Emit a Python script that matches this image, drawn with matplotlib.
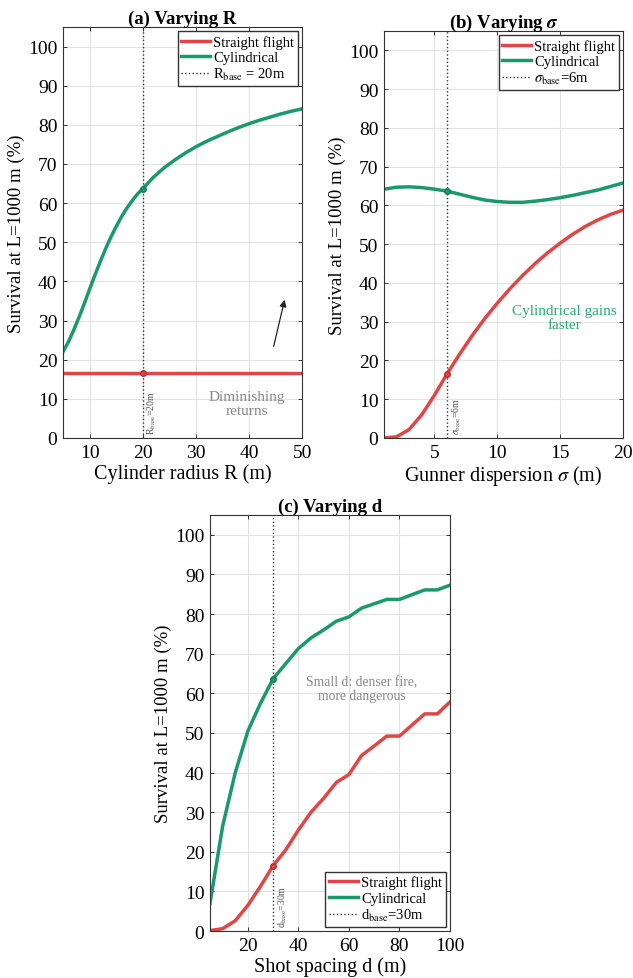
import numpy as np
import matplotlib
matplotlib.use("Agg")
import matplotlib.pyplot as plt

plt.rcParams['font.family'] = ['Liberation Serif', 'DejaVu Serif']
plt.rcParams['mathtext.fontset'] = 'stix'

RED = '#E04646'
GREEN = '#1A9A6C'

# (a) Varying R
R_vals = [5, 6, 7, 8, 9, 10, 11, 12, 13, 14, 15, 16, 17, 18, 19, 20, 22, 24, 26, 28, 30,
          32, 34, 36, 38, 40, 42, 44, 46, 48, 50]
R_cyl = [22.0, 24.5, 27.5, 30.8, 34.3, 38.0, 41.6, 45.0, 48.3, 51.3, 54.0, 56.5, 58.7,
         60.6, 62.3, 63.7, 66.6, 69.0, 71.0, 72.8, 74.4, 75.8, 77.0, 78.2, 79.3, 80.3,
         81.2, 82.0, 82.8, 83.5, 84.1]
R_str = [16.5] * len(R_vals)
R_base = 20
R_base_cyl = 63.7
R_base_str = 16.5

# (b) Varying sigma
s_vals = [1, 2, 3, 4, 5, 6, 7, 8, 9, 10, 11, 12, 13, 14, 15, 16, 17, 18, 19, 20]
s_str = [0.0, 0.3, 2.2, 6.0, 11.0, 16.5, 21.6, 26.4, 30.8, 34.8, 38.5, 41.9, 45.0,
         47.8, 50.3, 52.6, 54.6, 56.3, 57.7, 58.8]
s_cyl = [64.2, 64.7, 64.8, 64.6, 64.2, 63.7, 62.9, 62.1, 61.4, 61.0, 60.8, 60.8, 61.1,
         61.5, 62.0, 62.6, 63.3, 64.0, 64.9, 65.8]
s_base = 6

# (c) Varying d
d_vals = [5, 10, 15, 20, 25, 30, 35, 40, 45, 50, 55, 60, 65, 70, 75, 80, 85, 90, 95, 100]
d_str = [0.1, 0.6, 2.6, 6.5, 11.3, 16.5, 20.5, 25.5, 30.0, 33.5, 37.5, 39.5, 44.3,
         46.7, 49.2, 49.2, 52.0, 54.8, 54.8, 57.8]
d_cyl = [7.0, 26.5, 40.0, 50.5, 57.5, 63.7, 67.5, 71.3, 74.0, 76.0, 78.2, 79.3, 81.5,
         82.6, 83.7, 83.7, 84.9, 86.1, 86.1, 87.3]
d_base = 30

yticks = list(range(0, 101, 10))

fig = plt.figure(figsize=(6.33, 9.79), dpi=100)


def style(ax, xlim, xticks):
    ax.set_xlim(*xlim)
    ax.set_ylim(0, 105)
    ax.set_yticks(yticks)
    ax.set_xticks(xticks)
    ax.grid(True, color='#e3e3e3', linewidth=0.8)
    ax.set_axisbelow(True)
    ax.tick_params(direction='in', top=True, right=True, labelsize=14, length=3,
                   width=0.7, color='#333333', pad=4)
    for sp in ax.spines.values():
        sp.set_linewidth(0.8)
        sp.set_color('#333333')
    ax.set_ylabel('Survival at L=1000 m (%)', fontsize=13.5, labelpad=2)


def legend(ax, loc):
    ax.legend(loc=loc, fontsize=10.5, frameon=True, fancybox=False, edgecolor='#333333',
              handlelength=2.0, handletextpad=0.2, borderpad=0.25, labelspacing=0.15,
              borderaxespad=0.3, framealpha=1)


# panel a
axa = fig.add_axes([0.0995, 0.5516, 0.378, 0.4198])
axa.plot(R_vals, R_str, color=RED, lw=2.5, label='Straight flight')
axa.plot(R_vals, R_cyl, color=GREEN, lw=2.5, label='Cylindrical')
axa.axvline(R_base, color='#333333', lw=1.0, ls=':', label=r'R$_{\mathrm{base}}$ = 20m')
axa.plot([R_base], [R_base_cyl], 'o', color=GREEN, ms=4, mec='#147a55')
axa.plot([R_base], [R_base_str], 'o', color=RED, ms=4, mec='#b03030')
axa.text(R_base + 0.6, 1, r'R$_{\mathrm{base}}$=20m', rotation=90, fontsize=7,
         color='#555555', ha='left', va='bottom')
axa.text(39.6, 8.7, 'Diminishing\nreturns', fontsize=11, color='#888888', ha='center',
         va='center', linespacing=1.1)
axa.annotate('', xy=(46.8, 36), xytext=(44.5, 22.7),
             arrowprops=dict(arrowstyle='-|>', color='#222222', lw=0.9, mutation_scale=10))
style(axa, (5, 50), [10, 20, 30, 40, 50])
axa.set_xlabel('Cylinder radius R (m)', fontsize=14.5, labelpad=2)
axa.set_title('(a) Varying R', fontsize=13.5, fontweight='bold', pad=3)
legend(axa, 'upper right')

# panel b
axb = fig.add_axes([0.6066, 0.5516, 0.378, 0.4157])
axb.plot(s_vals, s_str, color=RED, lw=2.5, label='Straight flight')
axb.plot(s_vals, s_cyl, color=GREEN, lw=2.5, label='Cylindrical')
axb.axvline(s_base, color='#333333', lw=1.0, ls=':', label=r'$\sigma_{\mathrm{base}}$=6m')
axb.plot([s_base], [s_cyl[s_vals.index(s_base)]], 'o', color=GREEN, ms=4, mec='#147a55')
axb.plot([s_base], [s_str[s_vals.index(s_base)]], 'o', color=RED, ms=4, mec='#b03030')
axb.text(s_base + 0.25, 1, r'$\sigma_{\mathrm{base}}$=6m', rotation=90, fontsize=7,
         color='#555555', ha='left', va='bottom')
axb.text(15.3, 31.2, 'Cylindrical gains\nfaster', fontsize=11, color='#2aa877',
         ha='center', va='center', linespacing=1.1)
style(axb, (1, 20), [5, 10, 15, 20])
axb.set_xlabel(r'Gunner dispersion $\sigma$ (m)', fontsize=14.5, labelpad=2)
axb.set_title(r'(b) Varying $\boldsymbol{\sigma}$', fontsize=13.5, fontweight='bold', pad=3)
legend(axb, 'upper right')

# panel c
axc = fig.add_axes([0.3318, 0.0480, 0.379, 0.4249])
axc.plot(d_vals, d_str, color=RED, lw=2.5, label='Straight flight')
axc.plot(d_vals, d_cyl, color=GREEN, lw=2.5, label='Cylindrical')
axc.axvline(d_base, color='#333333', lw=1.0, ls=':', label=r'd$_{\mathrm{base}}$=30m')
axc.plot([d_base], [d_cyl[d_vals.index(d_base)]], 'o', color=GREEN, ms=4, mec='#147a55')
axc.plot([d_base], [d_str[d_vals.index(d_base)]], 'o', color=RED, ms=4, mec='#b03030')
axc.text(d_base + 1.2, 1, r'd$_{\mathrm{base}}$=30m', rotation=90, fontsize=7,
         color='#555555', ha='left', va='bottom')
axc.text(65.2, 61.1, 'Small d: denser fire,\nmore dangerous', fontsize=9.8,
         color='#888888', ha='center', va='center', linespacing=1.1)
style(axc, (5, 100), [20, 40, 60, 80, 100])
axc.set_xlabel('Shot spacing d (m)', fontsize=14.5, labelpad=2)
axc.set_title('(c) Varying d', fontsize=13.5, fontweight='bold', pad=3)
legend(axc, 'lower right')

fig.savefig('out.png', dpi=100)
